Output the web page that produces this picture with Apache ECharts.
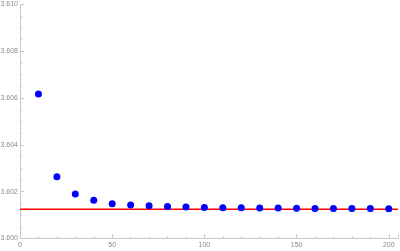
<!DOCTYPE html>
<html><head><meta charset="utf-8">
<script src="https://cdn.jsdelivr.net/npm/echarts@6/dist/echarts.min.js"></script>
<style>html,body{margin:0;padding:0;background:#fff}#c{width:400px;height:251px}</style>
</head><body><div id="c"></div>
<script>
var xValues = [10,20,30,40,50,60,70,80,90,100,110,120,130,140,150,160,170,180,190,200];
var yValues = [3.60617,3.60264,3.60190,3.60163,3.60149,3.60143,3.60140,3.60137,3.60135,3.60132,3.60131,3.60131,3.60130,3.60130,3.60129,3.60128,3.60128,3.60128,3.60128,3.60127];
var limitValue = 3.60125;
var xTicks = [0,50,100,150,200];
var yTicks = [3.600,3.602,3.604,3.606,3.608,3.610];

var pts = xValues.map(function(x,i){return [x,yValues[i]];});
var axisColor = '#c8c8c8';
var labelStyle = {color:'#8a8a8a', fontSize:7, fontFamily:'Liberation Sans'};
var chart = echarts.init(document.getElementById('c'));
chart.setOption({
  animation:false,
  grid:{left:20,right:2,top:4.5,bottom:12.5,containLabel:false,outerBoundsMode:'none'},
  xAxis:{type:'value',min:0,max:205,interval:50,
    axisLine:{show:true,onZero:false,lineStyle:{color:axisColor}},
    axisTick:{show:true,inside:true,length:4,lineStyle:{color:axisColor}},
    minorTick:{show:true,splitNumber:5,length:2,lineStyle:{color:axisColor}},
    splitLine:{show:false},
    axisLabel:Object.assign({margin:3,showMaxLabel:false,formatter:function(v){return xTicks.indexOf(v)>=0?String(v):'';}},labelStyle)},
  yAxis:{type:'value',min:3.600,max:3.610,interval:0.002,scale:true,
    axisLine:{show:true,onZero:false,lineStyle:{color:axisColor}},
    axisTick:{show:true,inside:true,length:4,lineStyle:{color:axisColor}},
    minorTick:{show:true,splitNumber:4,length:2,lineStyle:{color:axisColor}},
    splitLine:{show:false},
    axisLabel:Object.assign({margin:2,formatter:function(v){return v.toFixed(3);}},labelStyle)},
  series:[
    {type:'line',data:[[0,limitValue],[205,limitValue]],symbol:'none',silent:true,
      lineStyle:{color:'#ff0000',width:1.5},z:1},
    {type:'scatter',data:pts,symbolSize:7,itemStyle:{color:'#0000ff',opacity:1},z:2}
  ]
});
</script></body></html>
